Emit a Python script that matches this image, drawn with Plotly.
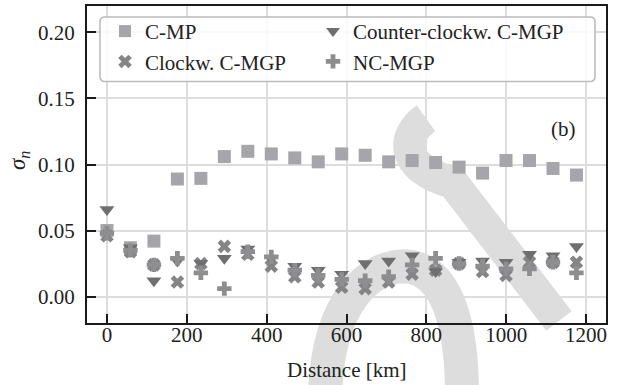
import plotly.graph_objects as go

# Distance bins [km]
distance = [0.0, 58.8, 117.6, 176.4, 235.2, 294.0, 352.8, 411.6, 470.4, 529.2, 588.0,
            646.8, 705.6, 764.4, 823.2, 882.0, 940.8, 999.6, 1058.4, 1117.2, 1176.0]

# sigma_n per model
c_mp = [0.050, 0.037, 0.042, 0.089, 0.0895, 0.106, 0.110, 0.108, 0.105, 0.102, 0.108,
        0.107, 0.102, 0.103, 0.1015, 0.098, 0.0935, 0.103, 0.103, 0.097, 0.092]
clockw_cmgp = [0.046, 0.034, 0.024, 0.011, 0.025, 0.038, 0.032, 0.023, 0.015, 0.011, 0.007,
               0.006, 0.011, 0.017, 0.020, 0.025, 0.019, 0.016, 0.026, 0.026, 0.026]
counter_cmgp = [0.066, 0.037, 0.012, 0.027, 0.025, 0.029, 0.036, 0.029, 0.023, 0.020, 0.017,
                0.025, 0.027, 0.031, 0.019, 0.026, 0.027, 0.026, 0.032, 0.031, 0.038]
nc_mgp = [0.048, 0.035, 0.024, 0.029, 0.018, 0.006, 0.034, 0.030, 0.020, 0.016, 0.013,
          0.012, 0.015, 0.024, 0.029, 0.025, 0.023, 0.021, 0.021, 0.026, 0.018]

x_ticks = [0, 200, 400, 600, 800, 1000, 1200]
y_ticks = [0.00, 0.05, 0.10, 0.15, 0.20]

FONT = "Liberation Serif"
TXT = "#222222"
W, H = 621, 385
ML, MR, MT, MB = 87, 15, 4, 62
PW, PH = W - ML - MR, H - MT - MB


def to_paper(px, py):
    """Figure pixel position -> paper coordinates."""
    return (px - ML) / PW, (H - MB - py) / PH


def path_from(cmds):
    out = []
    for c in cmds:
        if isinstance(c, str):
            out.append(c)
        else:
            x, y = to_paper(*c)
            out.append(f"{x:.4f},{y:.4f}")
    return " ".join(out)


fig = go.Figure()

# (name, values, symbol, colour, size, legend column)
series = [
    ("C-MP", c_mp, "square", "#a6a6aa", 13, "legend"),
    ("Clockw. C-MGP", clockw_cmgp, "x", "#858588", 12, "legend"),
    ("Counter-clockw. C-MGP", counter_cmgp, "triangle-down", "#6f6f71", 13, "legend2"),
    ("NC-MGP", nc_mgp, "cross", "#8e8e91", 12, "legend2"),
]
for name, vals, sym, col, size, leg in series:
    fig.add_trace(go.Scatter(
        x=distance, y=vals, mode="markers", name=name,
        legend=leg, legendgroup=name,
        marker=dict(symbol=sym, color=col, size=size, line=dict(width=0)),
    ))

# Light grey emblem behind the data
emblem = "#dddddd"
shapes = [
    dict(type="path", xref="paper", yref="paper", layer="below",
         path=path_from(["M", (426, 117), "C", (402, 134), (398, 166), (453, 182),
                         "L", (559, 321)]),
         line=dict(color=emblem, width=32), fillcolor="rgba(0,0,0,0)"),
    dict(type="path", xref="paper", yref="paper", layer="below",
         path=path_from(["M", (325, 395), "C", (328, 300), (370, 266), (405, 266),
                         "C", (445, 268), (462, 320), (462, 395)]),
         line=dict(color=emblem, width=34), fillcolor="rgba(0,0,0,0)"),
]

# Rounded legend frame
x0, y0, x1, y1, r = 100, 15, 595, 80, 5
frame = path_from(["M", (x0 + r, y0), "L", (x1 - r, y0), "Q", (x1, y0), (x1, y0 + r),
                   "L", (x1, y1 - r), "Q", (x1, y1), (x1 - r, y1),
                   "L", (x0 + r, y1), "Q", (x0, y1), (x0, y1 - r),
                   "L", (x0, y0 + r), "Q", (x0, y0), (x0 + r, y0), "Z"])
shapes.append(dict(type="path", xref="paper", yref="paper", layer="above", path=frame,
                   line=dict(color="#bcbcbc", width=1.6),
                   fillcolor="rgba(255,255,255,0.85)"))

axis_common = dict(
    showline=True, linecolor="#1a1a1a", linewidth=2, mirror=True,
    ticks="inside", ticklen=9, tickwidth=2, tickcolor="#1a1a1a",
    showgrid=True, gridcolor="#dddddd", gridwidth=1.5, zeroline=False,
    tickfont=dict(family=FONT, size=21, color=TXT),
)

legend_common = dict(
    orientation="v", xanchor="left", yanchor="top",
    y=to_paper(0, 9)[1], tracegroupgap=0,
    bgcolor="rgba(0,0,0,0)", borderwidth=0,
    font=dict(family=FONT, size=21, color=TXT),
    itemsizing="constant",
)

fig.update_layout(
    width=W, height=H,
    margin=dict(l=ML, r=MR, t=MT, b=MB),
    paper_bgcolor="white", plot_bgcolor="rgba(0,0,0,0)",
    font=dict(family=FONT, size=21, color=TXT),
    xaxis=dict(range=[-50, 1250], tickvals=x_ticks, ticklabelstandoff=-8, **axis_common),
    yaxis=dict(range=[-0.02, 0.22], tickvals=y_ticks, tickformat=".2f",
               ticklabelstandoff=6, **axis_common),
    shapes=shapes,
    showlegend=True,
    legend=dict(x=to_paper(105, 0)[0], **legend_common),
    legend2=dict(x=to_paper(313, 0)[0], **legend_common),
    annotations=[
        dict(text="(b)", xref="paper", yref="paper",
             x=to_paper(563, 0)[0], y=to_paper(0, 128)[1],
             xanchor="center", yanchor="middle",
             showarrow=False, font=dict(family=FONT, size=21, color=TXT)),
        dict(text="Distance [km]", xref="paper", yref="paper",
             x=0.5, y=to_paper(0, 370)[1], xanchor="center", yanchor="middle",
             showarrow=False, font=dict(family=FONT, size=21, color=TXT)),
        dict(text="<i>σ</i><sub><i>n</i></sub>", xref="paper", yref="paper",
             x=to_paper(19, 0)[0], y=to_paper(0, 160)[1], textangle=-90,
             xanchor="center", yanchor="middle",
             showarrow=False, font=dict(family=FONT, size=23, color=TXT)),
    ],
)

fig.write_html("out.html")
